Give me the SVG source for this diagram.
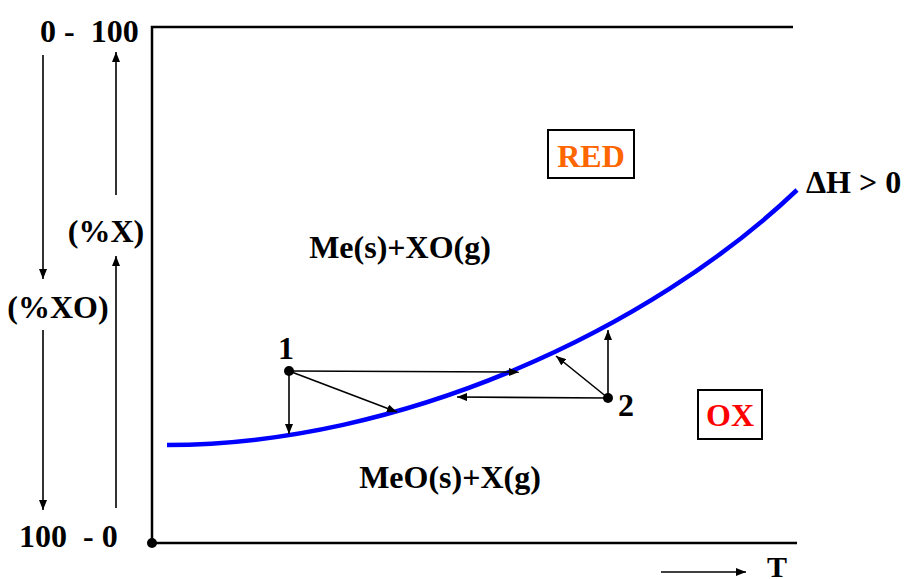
<svg xmlns="http://www.w3.org/2000/svg" width="904" height="579" viewBox="0 0 904 579">
<defs>
<marker id="ah" viewBox="0 0 10 8" refX="10" refY="4" markerWidth="10" markerHeight="8" markerUnits="userSpaceOnUse" orient="auto">
<path d="M0,0 L10,4 L0,8 Z" fill="#000"/>
</marker>
</defs>
<style>
text{font-family:"Liberation Serif","Times New Roman",serif;font-weight:bold;font-size:32px;fill:#000}
.ax{stroke:#000;stroke-width:2.5;fill:none}
.ar{stroke:#000;stroke-width:1.6;fill:none;marker-end:url(#ah)}
.box{fill:#fff;stroke:#000;stroke-width:2}
</style>
<rect width="904" height="579" fill="#fff"/>
<g id="frame">
<path class="ax" d="M793,27 H152 V543 H797"/>
<circle cx="152" cy="543" r="5" fill="#000"/>
</g>
<g id="left-axis">
<text x="40" y="42" xml:space="preserve">0 -  100</text>
<text x="19" y="547" xml:space="preserve">100  - 0</text>
<text x="106" y="242" text-anchor="middle">(%X)</text>
<text x="58" y="318" text-anchor="middle">(%XO)</text>
</g>
<g id="curve">
<path d="M167,445 C400,445 650,330 797,190" stroke="#0000ff" stroke-width="4.5" fill="none"/>
<text x="806" y="193">ΔH &gt; 0</text>
</g>
<g id="red">
<rect class="box" x="548" y="130" width="86" height="48"/>
<text x="591" y="167" text-anchor="middle" style="fill:#ff6600">RED</text>
</g>
<g id="ox">
<rect class="box" x="698" y="390" width="64" height="49"/>
<text x="730" y="426" text-anchor="middle" style="fill:#ff0000">OX</text>
</g>
<g id="labels">
<text x="400" y="258" text-anchor="middle">Me(s)+XO(g)</text>
<text x="450" y="488" text-anchor="middle">MeO(s)+X(g)</text>
<text x="767" y="577" style="font-size:30px">T</text>
</g>
<g id="point1">
<circle cx="289" cy="371" r="5" fill="#000"/>
<text x="286" y="359" text-anchor="middle">1</text>
</g>
<g id="point2">
<circle cx="608" cy="398" r="5" fill="#000"/>
<text x="626" y="416" text-anchor="middle">2</text>
</g>
<g id="connectors">
<line class="ar" x1="43" y1="55" x2="43" y2="279"/>
<line class="ar" x1="43" y1="330" x2="43" y2="510"/>
<line class="ar" x1="116" y1="195" x2="116" y2="52"/>
<line class="ar" x1="116" y1="508" x2="116" y2="256"/>
<line class="ar" x1="289" y1="371" x2="289" y2="434"/>
<line class="ar" x1="289" y1="371" x2="519" y2="372"/>
<line class="ar" x1="289" y1="371" x2="397" y2="412"/>
<line class="ar" x1="608" y1="398" x2="457" y2="397"/>
<line class="ar" x1="608" y1="398" x2="556" y2="356"/>
<line class="ar" x1="608" y1="398" x2="608" y2="330"/>
<line class="ar" x1="661" y1="572" x2="746" y2="572"/>
</g>
</svg>
